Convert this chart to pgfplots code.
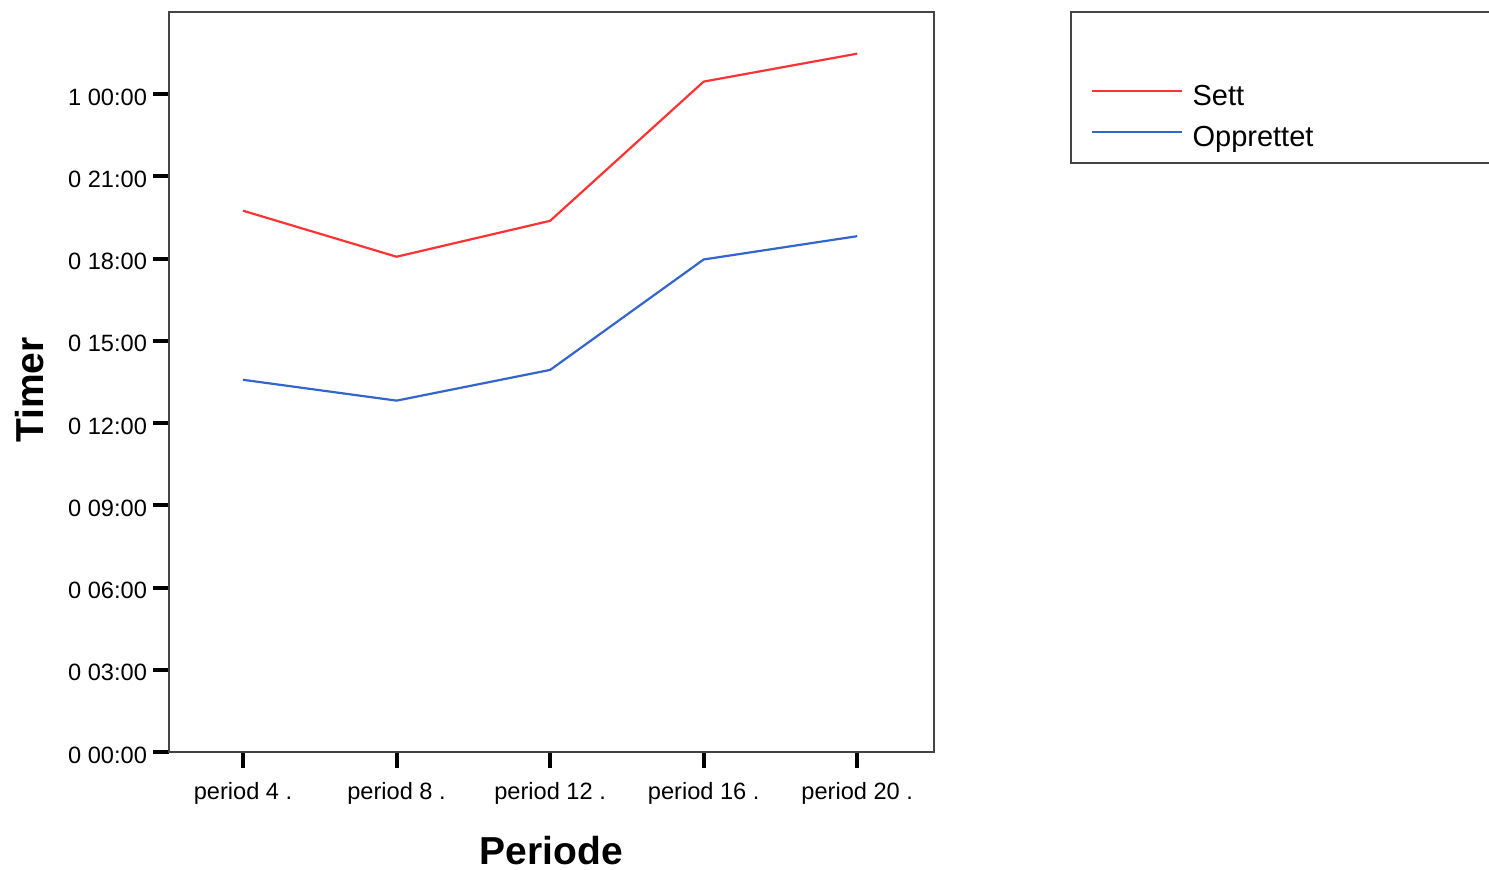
\documentclass[border=0pt]{standalone}
\usepackage{pgfplots}
\pgfplotsset{compat=1.18}
\usepackage{fontspec}
\setmainfont{Liberation Sans}
\definecolor{settred}{RGB}{255,51,51}
\definecolor{oppblue}{RGB}{51,102,204}
\definecolor{framegray}{RGB}{68,68,68}
\begin{document}
\begin{tikzpicture}
\path[use as bounding box] (0,0) rectangle (744.5pt,435pt);
\begin{axis}[
  at={(84.5pt,59pt)}, anchor=south west,
  scale only axis, width=382.5pt, height=370pt,
  xmin=-0.482, xmax=4.5, ymin=0, ymax=27,
  axis line style={framegray, line width=1pt},
  xtick={0,1,2,3,4},
  xticklabels={period 4 ., period 8 ., period 12 ., period 16 ., period 20 .},
  ytick={0,3,6,9,12,15,18,21,24},
  yticklabels={0 00:00,0 03:00,0 06:00,0 09:00,0 12:00,0 15:00,0 18:00,0 21:00,1 00:00},
  tick align=outside, xtick pos=bottom, ytick pos=left,
  major tick length=8pt,
  tick style={black, line width=2pt},
  ticklabel style={font=\fontsize{11.8}{14}\selectfont},
  xticklabel style={yshift=-3.5pt},
  yticklabel style={yshift=-1.5pt, xshift=0.5pt},
  xlabel={Periode}, ylabel={Timer},
  label style={font=\bfseries\fontsize{19.5}{22}\selectfont},
  xlabel style={at={(axis description cs:0.5,0)}, anchor=center, yshift=-49.5pt},
  ylabel style={at={(axis description cs:0,0.489)}, anchor=center, yshift=69.5pt},
  legend style={at={(axis description cs:1.2052,0.8574)}, anchor=west, draw=none, fill=none,
    inner sep=0pt, font=\fontsize{14.5}{17}\selectfont, row sep=5pt, column sep=2.5pt},
  legend cell align=left,
  legend image code/.code={\draw[#1] (0pt,3pt) -- (45pt,3pt);},
]
\addplot[settred, line width=1.1pt] coordinates {(0,19.75) (1,18.07) (2,19.38) (3,24.46) (4,25.48)};
\addlegendentry{Sett}
\addplot[oppblue, line width=1.1pt] coordinates {(0,13.58) (1,12.82) (2,13.94) (3,17.97) (4,18.82)};
\addlegendentry{Opprettet}
\end{axis}
\draw[framegray, line width=1pt] (535.5pt,429pt) rectangle (770pt,353.5pt);
\end{tikzpicture}
\end{document}
